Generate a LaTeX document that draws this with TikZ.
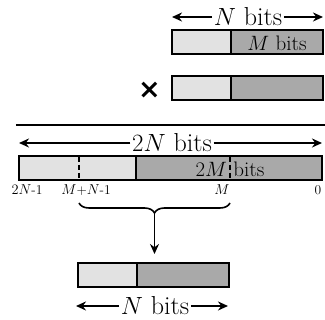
\documentclass[tikz,border=0pt]{standalone}
\usepackage{fontspec}
\usetikzlibrary{arrows.meta,decorations.pathreplacing}
\newfontfamily\symfont{DejaVu Sans}
\definecolor{lightpart}{HTML}{E2E2E2}
\definecolor{darkpart}{HTML}{A9A9A9}
\begin{document}
\begin{tikzpicture}[x=1pt,y=-1pt,
  seg/.style={draw=black,line width=1.8pt,inner sep=0pt,outer sep=0pt,minimum height=24pt},
  lo/.style={seg,fill=lightpart},
  hi/.style={seg,fill=darkpart},
  bigtxt/.style={inner sep=1.5pt,font=\fontsize{26}{28}\selectfont},
  midtxt/.style={inner sep=0pt,font=\fontsize{21}{23}\selectfont},
  smalltxt/.style={inner sep=0pt,font=\fontsize{13.5}{15}\selectfont},
  spanarrow/.style={line width=1.8pt,-{Stealth[length=10pt,width=9pt]}},
  dashmark/.style={line width=1.4pt,dash pattern=on 5pt off 3pt}]
\useasboundingbox (0,0) rectangle (325,320);

% first operand
\node[lo,minimum width=59pt,anchor=west] (a1) at (172,42) {};
\node[hi,minimum width=92pt,anchor=west] (a2) at (a1.east) {};
\node[midtxt] (mb) at (277,43) {$M$ bits};
\node[bigtxt] (nt) at (248,17) {$N$ bits};
\coordinate (ntl) at (172,17);
\coordinate (ntr) at (323,17);
\draw[spanarrow] (nt.west) -- (ntl);
\draw[spanarrow] (nt.east) -- (ntr);

% second operand
\node[font=\symfont\bfseries\fontsize{27}{29}\selectfont,inner sep=0pt] (times) at (149.5,90.5) {×};
\node[lo,minimum width=59pt,anchor=west] (b1) at (172,88) {};
\node[hi,minimum width=92pt,anchor=west] (b2) at (b1.east) {};

% rule
\coordinate (r1) at (16,125);
\coordinate (r2) at (325,125);
\draw[line width=1.8pt] (r1) -- (r2);

% full product
\node[bigtxt] (tn) at (172,143) {$2N$ bits};
\coordinate (tnl) at (19,143);
\coordinate (tnr) at (322,143);
\draw[spanarrow] (tn.west) -- (tnl);
\draw[spanarrow] (tn.east) -- (tnr);
\node[lo,minimum width=117pt,anchor=west] (p1) at (19,168) {};
\node[hi,minimum width=186pt,anchor=west] (p2) at (p1.east) {};
\node[midtxt] (tm) at (230,169) {$2M$ bits};
\coordinate (m1t) at (79,157);
\coordinate (m1b) at (79,179);
\coordinate (m2t) at (230,157);
\coordinate (m2b) at (230,179);
\draw[dashmark] (m1t) -- (m1b);
\draw[dashmark] (m2t) -- (m2b);

% bit positions
\node[smalltxt] (l1) at (27,190) {$2N$-1};
\node[smalltxt] (l2) at (86,190) {$M$+$N$-1};
\node[smalltxt] (l3) at (222,190) {$M$};
\node[smalltxt] (l4) at (318,190) {0};

% selected field
\coordinate (bl) at (79,203);
\coordinate (br) at (230,203);
\draw[line width=1.6pt,decorate,decoration={brace,mirror,amplitude=10pt}]
  (bl) -- (br);
\coordinate (tip) at (154.5,214);
\coordinate (dst) at (154.5,254);
\draw[spanarrow] (tip) -- (dst);

% result
\node[lo,minimum width=59pt,anchor=west] (c1) at (78,275) {};
\node[hi,minimum width=92pt,anchor=west] (c2) at (c1.east) {};
\node[bigtxt] (nb) at (155,306) {$N$ bits};
\coordinate (nbl) at (76,306);
\coordinate (nbr) at (228,306);
\draw[spanarrow] (nb.west) -- (nbl);
\draw[spanarrow] (nb.east) -- (nbr);
\end{tikzpicture}
\end{document}
